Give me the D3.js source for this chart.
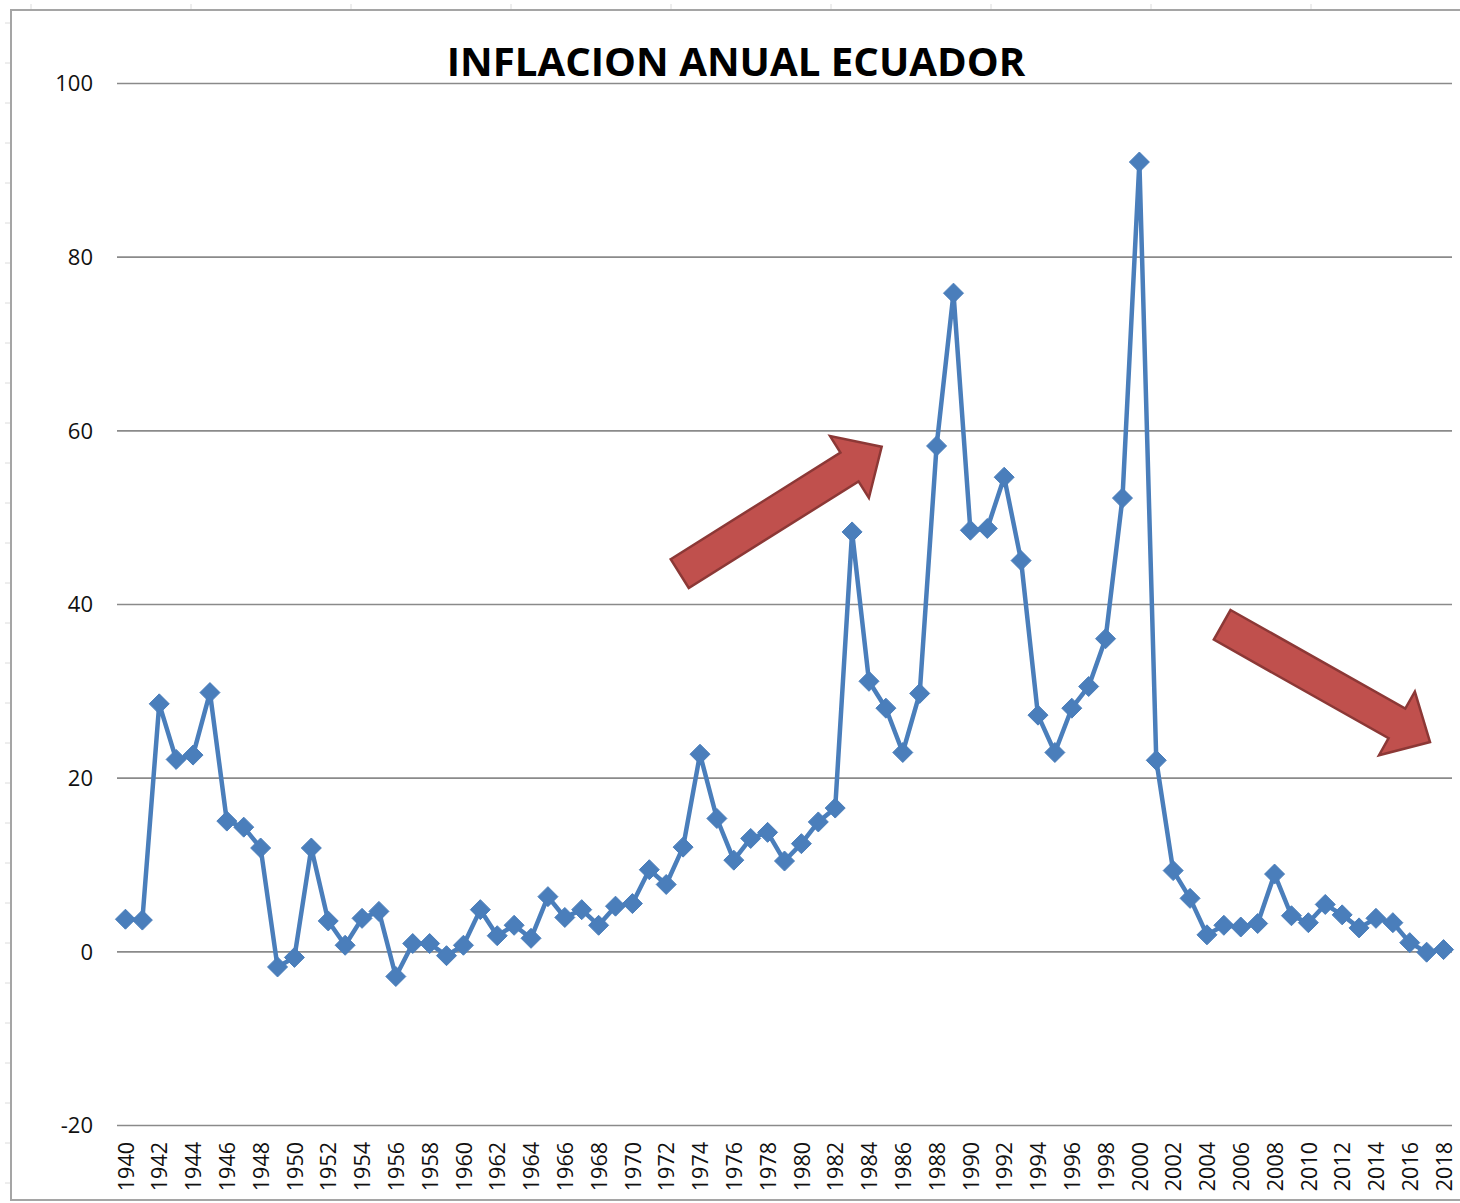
<!DOCTYPE html>
<html>
<head>
<meta charset="utf-8">
<script src="https://cdn.jsdelivr.net/npm/d3@7"></script>
<style>
  html, body { margin: 0; padding: 0; background: #fff; }
  svg { display: block; }
</style>
</head>
<body>
<div id="chart"></div>
<script>
// Inflación anual Ecuador 1940-2018
const years = d3.range(1940, 2019);
const inflacion = [
  3.7, 3.6, 28.5, 22.1, 22.6, 29.8, 15.0, 14.3, 11.9, -1.8,
  -0.7, 11.9, 3.5, 0.7, 3.8, 4.6, -2.9, 0.9, 0.9, -0.5,
  0.7, 4.8, 1.8, 3.0, 1.5, 6.3, 3.9, 4.8, 3.0, 5.2,
  5.5, 9.4, 7.7, 12.0, 22.7, 15.3, 10.5, 13.0, 13.7, 10.4,
  12.4, 14.9, 16.5, 48.3, 31.1, 28.0, 22.9, 29.7, 58.2, 75.8,
  48.5, 48.7, 54.6, 45.0, 27.2, 22.9, 28.0, 30.5, 36.0, 52.2,
  90.9, 22.0, 9.3, 6.1, 1.9, 3.0, 2.8, 3.2, 8.9, 4.1,
  3.3, 5.4, 4.2, 2.7, 3.8, 3.3, 1.0, -0.1, 0.2
];
const yearTicks = d3.range(1940, 2019, 2);
const valueTicks = [-20, 0, 20, 40, 60, 80, 100];
const titulo = 'INFLACION ANUAL ECUADOR';

// flechas de anotación en coordenadas de datos: [año, valor] cola -> punta
const flechas = [
  { from: [1972.8, 43.5], to: [1984.75, 58.1] },
  { from: [2004.9, 37.6], to: [2017.2, 24.1] }
];

const W = 1460, H = 1203;
const margin = { top: 83, right: 8, bottom: 78, left: 117 };

const svg = d3.select('#chart').append('svg')
  .attr('width', W)
  .attr('height', H);

// restos de la cuadrícula de la hoja de cálculo
const hoja = svg.append('g').attr('stroke', '#dcdcdc').attr('stroke-width', 1);
d3.range(23, H, 40).forEach(yy => {
  hoja.append('line').attr('x1', 5).attr('x2', 10).attr('y1', yy).attr('y2', yy);
});
d3.range(31, W, 160).forEach(xx => {
  hoja.append('line').attr('x1', xx).attr('x2', xx).attr('y1', 4).attr('y2', 9);
});

// marco del área del gráfico
svg.append('rect')
  .attr('x', 11)
  .attr('y', 10)
  .attr('width', 1462)
  .attr('height', 1190)
  .attr('fill', '#fff')
  .attr('stroke', '#a5a5a5')
  .attr('stroke-width', 2);

// escalas
const x = d3.scaleLinear()
  .domain([1939.5, 2018.5])
  .range([margin.left, W - margin.right]);

const y = d3.scaleLinear()
  .domain([-20, 100])
  .range([H - margin.bottom, margin.top]);

// líneas de división horizontales
svg.append('g')
  .attr('class', 'grid')
  .attr('transform', `translate(${margin.left},0)`)
  .call(d3.axisLeft(y)
    .tickValues(valueTicks)
    .tickSize(-(W - margin.right - margin.left))
    .tickFormat(''))
  .call(g => g.select('.domain').remove())
  .call(g => g.selectAll('line').attr('stroke', '#8a8a8a').attr('stroke-width', 1.6));

// eje Y (etiquetas)
const yAxisG = svg.append('g')
  .attr('transform', `translate(${margin.left - 24},0)`)
  .call(d3.axisLeft(y).tickValues(valueTicks).tickFormat(d => String(d)).tickSize(0).tickPadding(0));
yAxisG.select('.domain').remove();
yAxisG.selectAll('text')
  .attr('dy', '0.36em')
  .style('font-family', '"Open Sans", sans-serif')
  .style('font-size', '22px')
  .style('fill', '#111');

// eje X (años girados)
const xAxisG = svg.append('g')
  .attr('transform', `translate(0,${H - margin.bottom})`)
  .call(d3.axisBottom(x).tickValues(yearTicks).tickFormat(d3.format('d')).tickSize(0));
xAxisG.select('.domain').remove();
xAxisG.selectAll('text')
  .attr('transform', 'rotate(-90)')
  .attr('text-anchor', 'end')
  .attr('x', -17)
  .attr('y', 0)
  .attr('dy', '0.36em')
  .style('font-family', '"Open Sans", sans-serif')
  .style('font-size', '21.5px')
  .style('fill', '#111');

// serie
const datos = years.map((yr, i) => ({ year: yr, value: inflacion[i] }));

const line = d3.line()
  .x(d => x(d.year))
  .y(d => y(d.value));

svg.append('path')
  .datum(datos)
  .attr('fill', 'none')
  .attr('stroke', '#4a7ebb')
  .attr('stroke-width', 4.5)
  .attr('stroke-linejoin', 'round')
  .attr('d', line);

// marcadores en rombo
const r = 10;
svg.selectAll('path.marker')
  .data(datos)
  .enter()
  .append('path')
  .attr('class', 'marker')
  .attr('d', `M0,${-r}L${r},0L0,${r}L${-r},0Z`)
  .attr('transform', d => `translate(${x(d.year)},${y(d.value)})`)
  .attr('fill', '#4a7ebb')
  .attr('stroke', '#4a7ebb')
  .attr('stroke-width', 1);

// flechas rojas
function flechaPath(p0, p1, shaft, headW, headL) {
  const dx = p1[0] - p0[0], dy = p1[1] - p0[1];
  const len = Math.hypot(dx, dy);
  const ux = dx / len, uy = dy / len;
  const nx = -uy, ny = ux;
  const b = len - headL;
  const pt = (a, s) => [p0[0] + ux * a + nx * s, p0[1] + uy * a + ny * s];
  const pts = [
    pt(0, -shaft / 2), pt(b, -shaft / 2), pt(b, -headW / 2), pt(len, 0),
    pt(b, headW / 2), pt(b, shaft / 2), pt(0, shaft / 2)
  ];
  return 'M' + pts.map(p => p.join(',')).join('L') + 'Z';
}

svg.selectAll('path.flecha')
  .data(flechas)
  .enter()
  .append('path')
  .attr('class', 'flecha')
  .attr('d', d => flechaPath([x(d.from[0]), y(d.from[1])], [x(d.to[0]), y(d.to[1])], 34, 73, 38))
  .attr('fill', '#c0504d')
  .attr('stroke', '#8c3836')
  .attr('stroke-width', 2.5)
  .attr('stroke-linejoin', 'miter');

// título
const title = svg.append('text')
  .attr('x', 736)
  .attr('y', 76)
  .attr('text-anchor', 'middle')
  .style('font-family', '"Open Sans", sans-serif')
  .style('font-weight', '700')
  .style('font-size', '40px')
  .style('fill', '#000')
  .text(titulo);

// ajustar el ancho del título al original (~579px)
const tw = title.node().getComputedTextLength();
if (tw > 0) title.style('font-size', (40 * 579 / tw).toFixed(1) + 'px');
</script>
</body>
</html>
